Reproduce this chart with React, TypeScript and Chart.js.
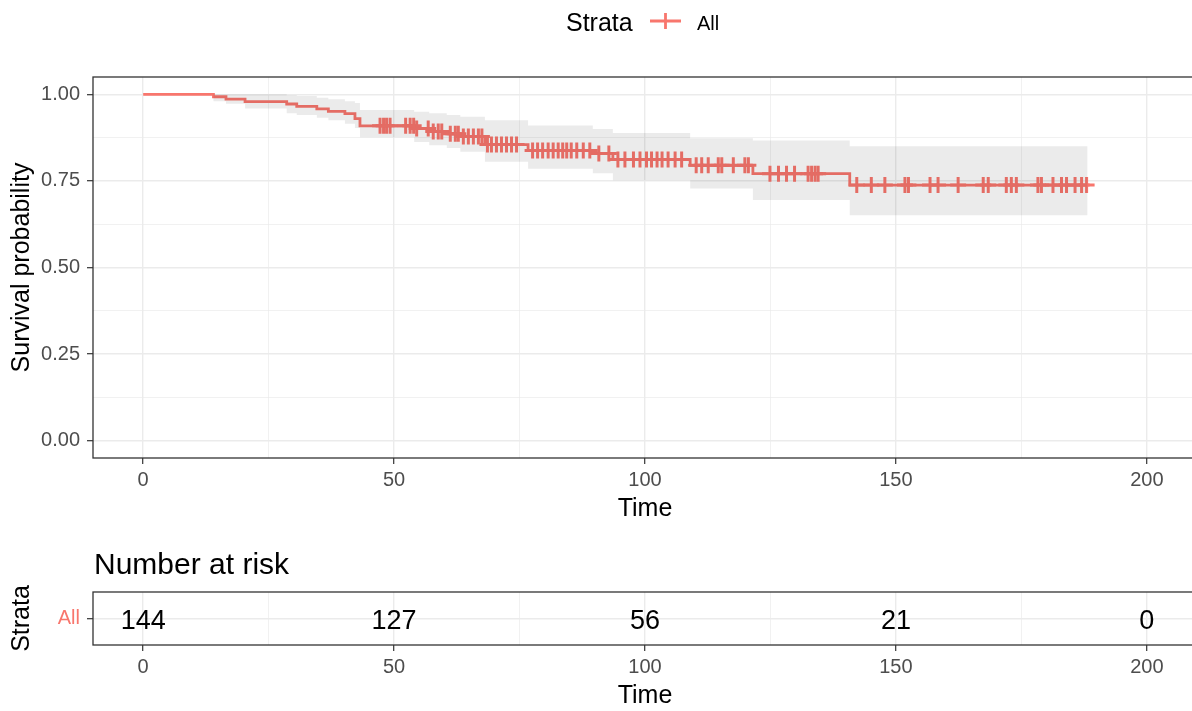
import React, { useEffect, useRef } from "react";
import { Chart, registerables } from "chart.js";

Chart.register(...registerables);

const FONT = "'Liberation Sans', Arial, Helvetica, sans-serif";
const RED = "#F8766D";
const TICK_GREY = "#4D4D4D";
const GRID = "#EBEBEB";
const BORDER = "#333333";

// Kaplan-Meier step curve (time of each drop and level after it)
const eventTimes = [0, 14.0, 16.5, 20.3, 28.6, 30.6, 34.6, 36.9, 40.2, 42.2, 43.2, 54.0, 57.0, 60.5, 63.2, 68.1, 76.7, 89.6, 93.6, 109.0, 121.5, 140.8];
const survival = [1, 0.993, 0.986, 0.979, 0.972, 0.965, 0.958, 0.951, 0.944, 0.93, 0.909, 0.901, 0.893, 0.886, 0.878, 0.855, 0.838, 0.829, 0.812, 0.795, 0.771, 0.738];
const upperCI = [1, 1, 1, 1, 0.997, 0.995, 0.99, 0.986, 0.98, 0.975, 0.955, 0.95, 0.945, 0.94, 0.935, 0.925, 0.91, 0.9, 0.888, 0.873, 0.867, 0.85];
const lowerCI = [1, 0.98, 0.973, 0.959, 0.945, 0.94, 0.932, 0.925, 0.915, 0.903, 0.876, 0.862, 0.853, 0.845, 0.834, 0.805, 0.785, 0.772, 0.752, 0.728, 0.695, 0.651];
const lastTime = 188.2;

// Censoring times ("+" marks)
const censorTimes = [
  47.2, 47.9, 48.5, 49.2, 52.3, 53.2, 53.9, 54.5, 56.8, 57.8, 58.8, 59.5, 61.2, 62.2, 62.8, 63.8,
  64.8, 65.8, 66.8, 67.5, 68.6, 69.4, 70.4, 71.4, 72.4, 73.4, 74.4, 77.6, 78.6, 79.6, 80.7, 81.7,
  82.7, 83.6, 84.4, 85.3, 86.4, 87.7, 89.0, 90.8, 92.8, 94.6, 96.0, 97.7, 99.0, 100.3, 101.3, 102.4,
  103.4, 104.6, 106.0, 107.3, 110.2, 111.3, 112.6, 114.6, 115.3, 117.6, 119.9, 120.6, 124.9, 126.6,
  128.2, 129.8, 132.5, 133.2, 133.9, 134.5, 142.2, 145.1, 147.8, 151.8, 152.5, 156.8, 158.4, 162.4,
  167.4, 168.4, 172.0, 173.0, 174.0, 178.3, 179.0, 181.3, 183.0, 184.0, 185.7, 187.0, 188.0,
];

// Number at risk table
const riskTimes = [0, 50, 100, 150, 200];
const riskCounts = [144, 127, 56, 21, 0];
const strataLabels = ["All"];

// Axis ticks
const xMajorTicks = [0, 50, 100, 150, 200];
const xMinorTicks = [25, 75, 125, 175];
const yMajorTicks = [0, 0.25, 0.5, 0.75, 1];
const yMinorTicks = [0.125, 0.375, 0.625, 0.875];

const stepPoints = (vals: number[]) =>
  eventTimes.map((t, i) => ({ x: t, y: vals[i] })).concat([{ x: lastTime, y: vals[vals.length - 1] }]);

const survAt = (t: number) => {
  let idx = 0;
  for (let i = 0; i < eventTimes.length; i++) if (eventTimes[i] <= t) idx = i;
  return survival[idx];
};

const isIn = (list: number[]) => (ctx: any) => !!ctx.tick && list.includes(ctx.tick.value);

const makeX = (height: number, titlePadBottom: number) => ({
  type: "linear",
  min: -10,
  max: 210,
  afterBuildTicks: (s: any) => {
    s.ticks = [...xMajorTicks, ...xMinorTicks].sort((a, b) => a - b).map((v) => ({ value: v }));
  },
  afterFit: (s: any) => {
    s.height = height;
  },
  border: { display: false },
  grid: {
    color: GRID,
    lineWidth: (c: any) => (isIn(xMajorTicks)(c) ? 1.4 : 0.7),
    tickColor: (c: any) => (isIn(xMajorTicks)(c) ? BORDER : "rgba(0,0,0,0)"),
    tickLength: 6,
    tickWidth: 1.2,
  },
  ticks: {
    autoSkip: false,
    maxRotation: 0,
    padding: 4,
    color: TICK_GREY,
    font: { family: FONT, size: 20 },
    callback: (v: number) => (xMajorTicks.includes(v) ? String(v) : ""),
  },
  title: {
    display: true,
    text: "Time",
    color: "#000",
    font: { family: FONT, size: 25 },
    padding: { top: 0, bottom: titlePadBottom },
  },
});

const borderPlugin = {
  id: "panelBorder",
  afterDraw(chart: any) {
    const { ctx, chartArea: a } = chart;
    ctx.save();
    ctx.strokeStyle = BORDER;
    ctx.lineWidth = 1.3;
    ctx.strokeRect(a.left, a.top, a.right - a.left, a.bottom - a.top);
    ctx.restore();
  },
};

const legendPlugin = {
  id: "strataLegend",
  afterDraw(chart: any) {
    const { ctx } = chart;
    ctx.save();
    ctx.fillStyle = "#000";
    ctx.textBaseline = "alphabetic";
    ctx.textAlign = "left";
    ctx.font = `25px ${FONT}`;
    ctx.fillText("Strata", 566, 31);
    ctx.strokeStyle = RED;
    ctx.lineWidth = 2.8;
    ctx.beginPath();
    ctx.moveTo(650, 21);
    ctx.lineTo(681, 21);
    ctx.moveTo(665.5, 13);
    ctx.lineTo(665.5, 29);
    ctx.stroke();
    ctx.font = `20px ${FONT}`;
    ctx.fillText(strataLabels[0], 697, 29.5);
    ctx.restore();
  },
};

const riskTextPlugin = {
  id: "riskText",
  afterDatasetsDraw(chart: any) {
    const { ctx } = chart;
    const meta = chart.getDatasetMeta(0);
    ctx.save();
    ctx.fillStyle = "#000";
    ctx.font = `27px ${FONT}`;
    ctx.textAlign = "center";
    ctx.textBaseline = "middle";
    meta.data.forEach((pt: any, i: number) => {
      ctx.fillText(String(riskCounts[i]), pt.x, pt.y + 3);
    });
    ctx.font = `30px ${FONT}`;
    ctx.textAlign = "left";
    ctx.textBaseline = "alphabetic";
    ctx.fillText("Number at risk", 94, 44);
    ctx.restore();
  },
};

export default function App() {
  const mainRef = useRef<HTMLCanvasElement>(null);
  const riskRef = useRef<HTMLCanvasElement>(null);

  useEffect(() => {
    const mainChart = new Chart(mainRef.current as HTMLCanvasElement, {
      type: "line",
      data: {
        datasets: [
          {
            data: stepPoints(upperCI),
            stepped: "before",
            borderColor: "rgba(0,0,0,0)",
            borderWidth: 1,
            pointRadius: 0,
            fill: "+1",
            backgroundColor: "rgba(0,0,0,0.08)",
          },
          {
            data: stepPoints(lowerCI),
            stepped: "before",
            borderColor: "rgba(0,0,0,0)",
            borderWidth: 1,
            pointRadius: 0,
            fill: false,
          },
          {
            data: stepPoints(survival),
            stepped: "before",
            borderColor: RED,
            borderWidth: 2.8,
            pointRadius: 0,
            fill: false,
          },
          {
            data: censorTimes.map((t) => ({ x: t, y: survAt(t) })),
            showLine: false,
            pointStyle: "cross",
            pointRadius: 8,
            pointBorderWidth: 3,
            pointBorderColor: RED,
            pointBackgroundColor: RED,
            borderColor: RED,
            fill: false,
          },
        ] as any,
      },
      options: {
        responsive: false,
        animation: false,
        devicePixelRatio: 1,
        layout: { padding: { left: 0, top: 77, right: 43, bottom: 0 } },
        plugins: { legend: { display: false }, tooltip: { enabled: false } },
        scales: {
          x: makeX(72, 6) as any,
          y: {
            type: "linear",
            min: -0.05,
            max: 1.05,
            afterBuildTicks: (s: any) => {
              s.ticks = [...yMajorTicks, ...yMinorTicks].sort((a, b) => a - b).map((v) => ({ value: v }));
            },
            afterFit: (s: any) => {
              s.width = 93;
            },
            border: { display: false },
            grid: {
              color: GRID,
              lineWidth: (c: any) => (isIn(yMajorTicks)(c) ? 1.4 : 0.7),
              tickColor: (c: any) => (isIn(yMajorTicks)(c) ? BORDER : "rgba(0,0,0,0)"),
              tickLength: 6,
              tickWidth: 1.2,
            },
            ticks: {
              autoSkip: false,
              padding: 7,
              color: TICK_GREY,
              font: { family: FONT, size: 20 },
              callback: (v: number) => (yMajorTicks.includes(v) ? v.toFixed(2) : ""),
            },
            title: {
              display: true,
              text: "Survival probability",
              color: "#000",
              font: { family: FONT, size: 25 },
              padding: { top: 7, bottom: 0 },
            },
          } as any,
        },
      },
      plugins: [borderPlugin, legendPlugin],
    });

    const riskChart = new Chart(riskRef.current as HTMLCanvasElement, {
      type: "line",
      data: {
        datasets: [
          {
            data: riskTimes.map((t) => ({ x: t, y: 1 })),
            showLine: false,
            pointRadius: 0,
            borderColor: "rgba(0,0,0,0)",
          },
        ] as any,
      },
      options: {
        responsive: false,
        animation: false,
        devicePixelRatio: 1,
        layout: { padding: { left: 0, top: 62, right: 43, bottom: 0 } },
        plugins: { legend: { display: false }, tooltip: { enabled: false } },
        scales: {
          x: makeX(66, 0) as any,
          y: {
            type: "linear",
            min: 0,
            max: 2,
            afterBuildTicks: (s: any) => {
              s.ticks = [{ value: 1 }];
            },
            afterFit: (s: any) => {
              s.width = 93;
            },
            border: { display: false },
            grid: {
              color: GRID,
              lineWidth: 1.4,
              tickColor: BORDER,
              tickLength: 6,
              tickWidth: 1.2,
            },
            ticks: {
              autoSkip: false,
              padding: 7,
              color: RED,
              font: { family: FONT, size: 20 },
              callback: () => strataLabels[0],
            },
            title: {
              display: true,
              text: "Strata",
              color: "#000",
              font: { family: FONT, size: 25 },
              padding: { top: 7, bottom: 0 },
            },
          } as any,
        },
      },
      plugins: [borderPlugin, riskTextPlugin],
    });

    return () => {
      mainChart.destroy();
      riskChart.destroy();
    };
  }, []);

  return (
    <div
      style={{
        position: "absolute",
        left: 0,
        top: 0,
        width: 1192,
        height: 711,
        overflow: "hidden",
        background: "#fff",
      }}
    >
      <canvas
        ref={mainRef}
        width={1240}
        height={530}
        style={{ position: "absolute", left: 0, top: 0, display: "block" }}
      />
      <canvas
        ref={riskRef}
        width={1240}
        height={181}
        style={{ position: "absolute", left: 0, top: 530, display: "block" }}
      />
    </div>
  );
}
